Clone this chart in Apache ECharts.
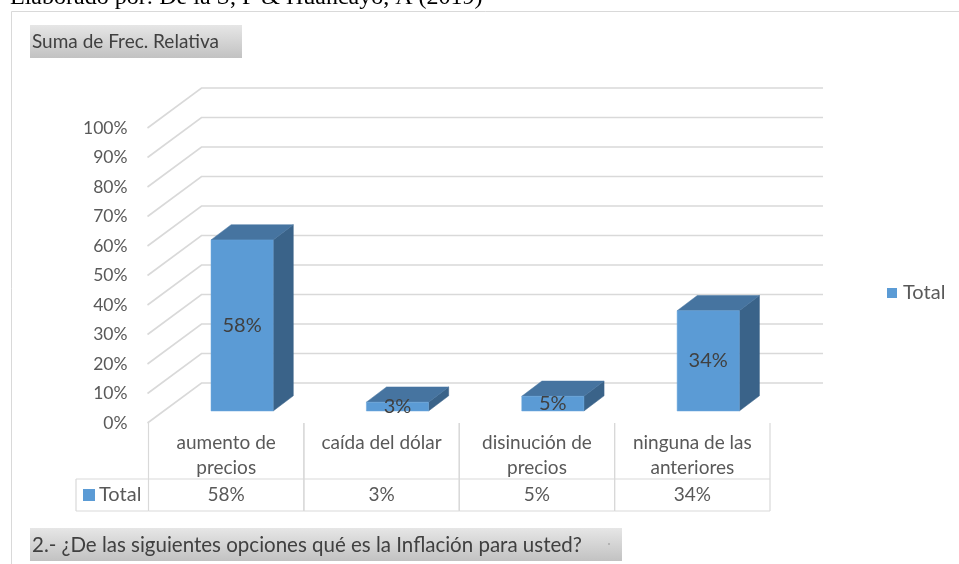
<!DOCTYPE html>
<html><head><meta charset="utf-8">
<script src="https://cdn.jsdelivr.net/npm/echarts@6/dist/echarts.min.js"></script>
<style>html,body{margin:0;padding:0;background:#fff;overflow:hidden}#c{width:959px;height:564px}</style>
</head><body><div id="c"></div>
<script>
// ---- data ----
const categories = ['aumento de\nprecios', 'caída del dólar', 'disinución de\nprecios', 'ninguna de las\nanteriores'];
const seriesName = 'Total';
const values = [58, 3, 5, 34];
const valueLabels = ['58%', '3%', '5%', '34%'];
const yTicks = [0, 10, 20, 30, 40, 50, 60, 70, 80, 90, 100];
const captionText = 'Elaborado por: De la S, F & Huancayo, A (2019)';
const fieldButtonTop = 'Suma de Frec. Relativa';
const fieldButtonBottom = '2.- ¿De las siguientes opciones qué es la Inflación para usted?';

// ---- style ----
const FONT = 'Lato, "Open Sans", sans-serif';
const GRID_COLOR = '#d9d9d9';
const TEXT = '#595959';
const DEPTH = [53, -40];           // full depth of the 3D walls
const BAR_FRONT = 0.3, BAR_BACK = 0.68; // bar depth fractions
const FRONT = '#5b9bd5', TOP = '#4674a0', SIDE = '#3a6389';

const chart = echarts.init(document.getElementById('c'), null, {renderer: 'canvas'});

function bandInfo(api, i, v) {
  const c = api.coord([i, v]);
  const bw = api.size([1, 0])[0];
  return {x: c[0], y: c[1], bw: bw};
}

const option = {
  animation: false,
  backgroundColor: '#fff',
  grid: {left: 148.5, top: 128, width: 621.5, height: 295, containLabel: false},
  legend: {
    data: [{name: seriesName, icon: 'rect'}],
    left: 887, top: 283, padding: 0, itemWidth: 10, itemHeight: 10, itemGap: 5,
    textStyle: {fontFamily: FONT, fontSize: 20, color: TEXT, padding: [0, 0, 0, 1]}
  },
  xAxis: {
    type: 'category', data: categories,
    axisLine: {show: false}, axisTick: {show: false}, splitLine: {show: false},
    axisLabel: {fontFamily: FONT, fontSize: 19, color: TEXT, margin: 7, lineHeight: 25, interval: 0, verticalAlign: 'top'}
  },
  yAxis: {
    type: 'value', min: 0, max: 100, interval: 10,
    axisLine: {show: false}, axisTick: {show: false}, splitLine: {show: false},
    axisLabel: {formatter: '{value}%', fontFamily: FONT, fontSize: 17.5, color: TEXT, margin: 21}
  },
  graphic: [
    {type: 'rect', silent: true, shape: {x: 11.5, y: 11.5, width: 1000, height: 600},
     style: {fill: 'none', stroke: GRID_COLOR, lineWidth: 1}},
    {type: 'text', silent: true, x: 10, y: 10,
     style: {text: captionText, fill: '#000', font: '24px "Liberation Serif", "Times New Roman", serif', verticalAlign: 'bottom'}},
    {type: 'rect', silent: true, shape: {x: 30, y: 25, width: 212, height: 33},
     style: {fill: new echarts.graphic.LinearGradient(0, 0, 0, 1, [{offset: 0, color: '#e6e6e6'}, {offset: 1, color: '#c2c2c2'}])}},
    {type: 'text', silent: true, x: 32, y: 42,
     style: {text: fieldButtonTop, fill: '#404040', font: '19px ' + FONT, verticalAlign: 'middle'}},
    {type: 'rect', silent: true, shape: {x: 30, y: 528, width: 592, height: 33},
     style: {fill: new echarts.graphic.LinearGradient(0, 0, 0, 1, [{offset: 0, color: '#e6e6e6'}, {offset: 1, color: '#c2c2c2'}])}},
    {type: 'text', silent: true, x: 32, y: 545,
     style: {text: fieldButtonBottom, fill: '#404040', font: '20.5px ' + FONT, verticalAlign: 'middle'}},
    {type: 'circle', silent: true, shape: {cx: 609, cy: 544, r: 0.8}, style: {fill: '#888'}}
  ],
  series: [
    {
      type: 'custom', name: 'grid', silent: true, z: 1,
      data: yTicks.map(t => [0, t]),
      renderItem: function (params, api) {
        const b = bandInfo(api, 0, api.value(1));
        const x0 = b.x - b.bw / 2;
        const xr = x0 + b.bw * categories.length + DEPTH[0];
        return {
          type: 'polyline',
          shape: {points: [[x0 - 1, b.y], [x0 + DEPTH[0], b.y + DEPTH[1]], [xr, b.y + DEPTH[1]]]},
          style: {stroke: GRID_COLOR, lineWidth: 1.6, fill: null}
        };
      }
    },
    {
      type: 'custom', name: seriesName, z: 3,
      itemStyle: {color: FRONT},
      data: values.map((v, i) => [i, v]),
      renderItem: function (params, api) {
        const i = api.value(0), v = api.value(1);
        const b0 = bandInfo(api, i, 0);
        const b1 = bandInfo(api, i, v);
        const w = b0.bw * 0.4;
        const fx = DEPTH[0] * BAR_FRONT, fy = DEPTH[1] * BAR_FRONT;
        const dx = DEPTH[0] * (BAR_BACK - BAR_FRONT), dy = DEPTH[1] * (BAR_BACK - BAR_FRONT);
        const L = b0.x - w / 2 + fx, R = b0.x + w / 2 + fx;
        const B = b0.y + fy, T = b1.y + fy;
        return {
          type: 'group',
          children: [
            {type: 'polygon', shape: {points: [[R, B], [R + dx, B + dy], [R + dx, T + dy], [R, T]]},
             style: {fill: SIDE, stroke: SIDE, lineWidth: 0.5}},
            {type: 'polygon', shape: {points: [[L, T], [R, T], [R + dx, T + dy], [L + dx, T + dy]]},
             style: {fill: TOP, stroke: TOP, lineWidth: 0.5}},
            {type: 'rect', shape: {x: L, y: T, width: w, height: B - T},
             style: {fill: FRONT, stroke: '#6aa6dc', lineWidth: 0.5}},
            {type: 'text', x: (L + R) / 2, y: (T + B) / 2,
             style: {text: valueLabels[i], fill: '#404040', font: '20px ' + FONT, align: 'center', verticalAlign: 'middle'}}
          ]
        };
      }
    },
    {
      type: 'custom', name: 'table', silent: true, z: 2,
      data: values.map((v, i) => [i, v]),
      renderItem: function (params, api) {
        const i = api.value(0);
        const b = bandInfo(api, i, 0);
        const L = b.x - b.bw / 2, R = b.x + b.bw / 2;
        const top = b.y, mid = b.y + 56, bot = b.y + 88;
        const ls = {stroke: GRID_COLOR, lineWidth: 1.2};
        const children = [
          {type: 'line', shape: {x1: L, y1: top, x2: L, y2: bot}, style: ls},
          {type: 'line', shape: {x1: R, y1: top, x2: R, y2: bot}, style: ls},
          {type: 'line', shape: {x1: L, y1: mid, x2: R, y2: mid}, style: ls},
          {type: 'line', shape: {x1: L, y1: bot, x2: R, y2: bot}, style: ls},
          {type: 'text', x: b.x, y: (mid + bot) / 2,
           style: {text: valueLabels[i], fill: TEXT, font: '19px ' + FONT, align: 'center', verticalAlign: 'middle'}}
        ];
        if (i === 0) {
          const kL = L - 72.5;
          children.push(
            {type: 'line', shape: {x1: kL, y1: mid, x2: L, y2: mid}, style: ls},
            {type: 'line', shape: {x1: kL, y1: bot, x2: L, y2: bot}, style: ls},
            {type: 'line', shape: {x1: kL, y1: mid, x2: kL, y2: bot}, style: ls},
            {type: 'rect', shape: {x: kL + 7, y: (mid + bot) / 2 - 6, width: 12, height: 12}, style: {fill: FRONT}},
            {type: 'text', x: kL + 23, y: (mid + bot) / 2,
             style: {text: seriesName, fill: TEXT, font: '20px ' + FONT, align: 'left', verticalAlign: 'middle'}}
          );
        }
        return {type: 'group', children: children};
      }
    }
  ]
};
chart.setOption(option);
</script>
</body></html>
